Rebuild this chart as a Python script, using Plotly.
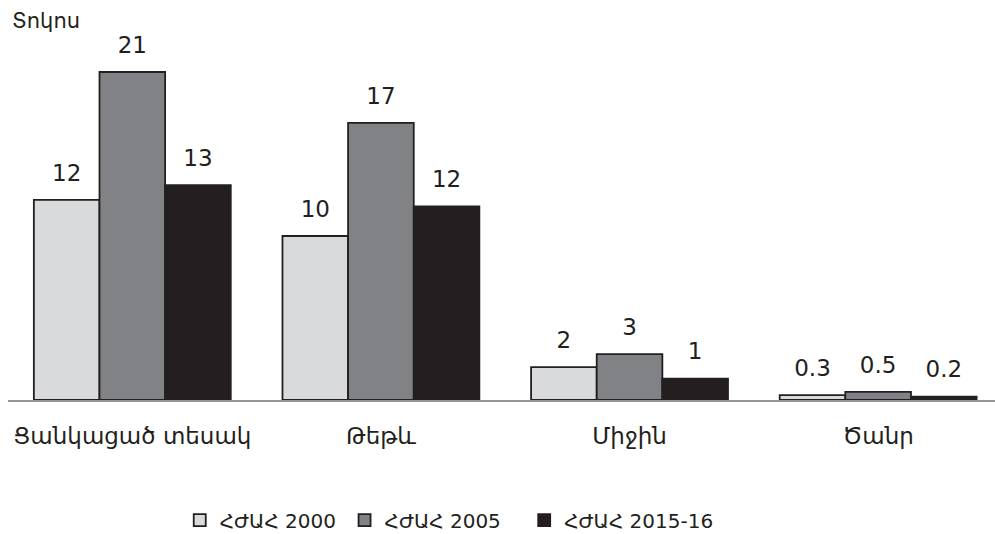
import plotly.graph_objects as go

# anemia levels, percent
categories = ["Ցանկացած տեսակ", "Թեթև", "Միջին", "Ծանր"]
series_names = ["ՀԺԱՀ 2000", "ՀԺԱՀ 2005", "ՀԺԱՀ 2015-16"]
dhs_2000 = [12.2, 10.0, 2.0, 0.3]
dhs_2005 = [20.0, 16.9, 2.8, 0.5]
dhs_2015 = [13.1, 11.8, 1.3, 0.2]
labels_2000 = ["12", "10", "2", "0.3"]
labels_2005 = ["21", "17", "3", "0.5"]
labels_2015 = ["13", "12", "1", "0.2"]

fills = ["#d9dadb", "#808285", "#231f20"]
edge = "#231f20"
FONT = "DejaVu Sans, sans-serif"
legend_ids = ["legend", "legend2", "legend3"]
legend_x = [0.174, 0.341, 0.523]

fig = go.Figure()
series = [(dhs_2000, labels_2000), (dhs_2005, labels_2005), (dhs_2015, labels_2015)]
for name, (vals, labs), col, lg in zip(series_names, series, fills, legend_ids):
    fig.add_trace(go.Bar(
        x=categories, y=vals, name=name, legend=lg,
        marker=dict(color=col, line=dict(color=edge, width=1.8)),
        hoverinfo="skip",
    ))
# value labels sit a little higher than plotly's "outside" text, so use text scatter
for name, (vals, labs) in zip(series_names, series):
    fig.add_trace(go.Scatter(
        x=categories, y=vals, text=labs, mode="markers+text",
        textposition="top center",
        marker=dict(size=20, color="rgba(0,0,0,0)"),
        textfont=dict(size=23, color="#231f20", family=FONT),
        showlegend=False, hoverinfo="skip", cliponaxis=False,
    ))

legend_style = dict(
    orientation="h", xanchor="left",
    yref="container", y=0.026, yanchor="middle",
    font=dict(size=20, color="#231f20"), itemwidth=30,
)
fig.update_layout(
    width=995, height=534,
    margin=dict(l=8, r=0, t=30, b=134),
    paper_bgcolor="white", plot_bgcolor="white",
    barmode="group", bargap=0.208, bargroupgap=0,
    scattermode="group", scattergap=0.208,
    font=dict(family=FONT, color="#231f20"),
    showlegend=True,
    legend=dict(x=legend_x[0], **legend_style),
    legend2=dict(x=legend_x[1], **legend_style),
    legend3=dict(x=legend_x[2], **legend_style),
    annotations=[dict(
        text="Տոկոս", xref="paper", yref="paper",
        x=0.0, xanchor="left", y=1.024, yanchor="middle",
        xshift=2, showarrow=False, font=dict(size=21, color="#231f20"),
    )],
)
fig.update_xaxes(
    range=[-0.5, 3.47], showline=True, linecolor="#939598", linewidth=2,
    ticks="outside", ticklen=14, tickcolor="rgba(0,0,0,0)",
    tickfont=dict(size=23, color="#231f20"), showgrid=False, layer="above traces",
)
fig.update_yaxes(range=[0, 22.56], visible=False, showgrid=False, zeroline=False)

# drop the browser's default 8px body margin so the figure sits at the page corner
fig.write_html("out.html", config={"displayModeBar": False},
               post_script="document.body.style.margin='0';")
